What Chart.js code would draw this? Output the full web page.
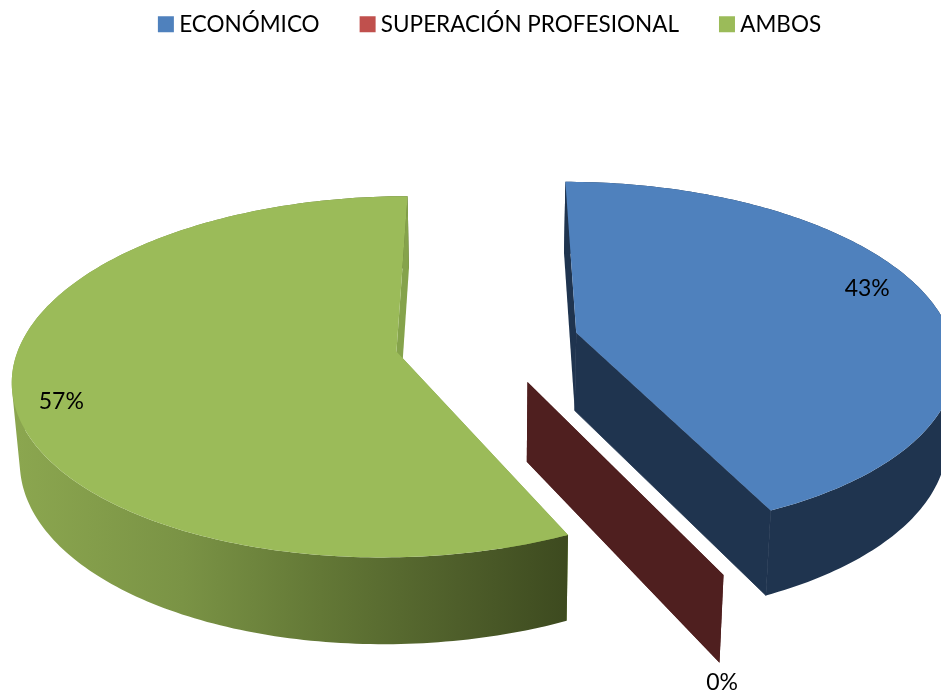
<!DOCTYPE html>
<html lang="en">
  <head>
    <meta charset="utf-8" />
    <title>Pie 3D</title>
    <style>
      * {
        margin: 0;
        padding: 0;
      }
      body {
        background: white;
        overflow: hidden;
      }
      .chartBox {
        width: 941px;
        height: 691px;
      }
    </style>
  </head>
  <body>
    <div class="chartBox">
      <canvas id="myChart" width="941" height="691"></canvas>
    </div>

    <script src="https://cdnjs.cloudflare.com/ajax/libs/Chart.js/4.4.1/chart.umd.min.js"></script>

    <script>
      const categories = ["ECONÓMICO", "SUPERACIÓN PROFESIONAL", "AMBOS"];
      const percentValues = [43, 0, 57];

      const topColors = ["#4f81bd", "#c0504d", "#9bbb59"];
      const sideColors = ["#1f344f", "#4f1f1f", "#85a34b"];

      // label placement relative to each slice, radius and angle shift in degrees
      const labelRadius = [0.86, 1.37, 0.885];
      const labelShift = [-5.5, 8.8, -5.5];

      // camera fitted to the picture
      const view = { vx: 487, vy: 342, a: 376, b: 174.4, k: 0.1396, explode: 0.245 };

      const project = (u, v) => {
        const s = 1 / (1 - view.k * v);
        return { x: view.vx + view.a * u * s, y: view.vy + view.b * v * s };
      };

      // bottom plane of the pie
      const lower = (p) => ({
        x: view.vx + (p.x - view.vx) * 0.983,
        y: p.y * 1.04 + 64.5,
      });

      const addPoly = (ctx, points) => {
        points.forEach((p, i) => (i ? ctx.lineTo(p.x, p.y) : ctx.moveTo(p.x, p.y)));
        ctx.closePath();
      };

      const fillPath = (ctx, points, fill, seam) => {
        ctx.beginPath();
        addPoly(ctx, points);
        ctx.fillStyle = fill;
        ctx.fill();
        if (seam) {
          ctx.strokeStyle = fill;
          ctx.lineWidth = 0.8;
          ctx.stroke();
        }
      };

      const signedArea = (points) => {
        let sum = 0;
        points.forEach((p, i) => {
          const q = points[(i + 1) % points.length];
          sum += p.x * q.y - q.x * p.y;
        });
        return sum;
      };

      const pie3d = {
        id: "pie3d",
        beforeDatasetsDraw(chart) {
          const ctx = chart.ctx;
          const arcs = chart.getDatasetMeta(0).data;

          const greenSide = ctx.createLinearGradient(18, 0, 568, 0);
          greenSide.addColorStop(0, "#8ba64f");
          greenSide.addColorStop(0.3, "#7a9345");
          greenSide.addColorStop(0.55, "#637836");
          greenSide.addColorStop(0.8, "#4e5e2a");
          greenSide.addColorStop(1, "#3d4a1f");

          arcs.forEach((arc, i) => {
            const mid = (arc.startAngle + arc.endAngle) / 2;
            const cu = view.explode * Math.cos(mid);
            const cv = view.explode * Math.sin(mid);

            const center = project(cu, cv);
            const rim = [];
            const steps = Math.max(1, Math.ceil(((arc.endAngle - arc.startAngle) * 180) / Math.PI));
            for (let n = 0; n <= steps; n++) {
              const t = arc.startAngle + ((arc.endAngle - arc.startAngle) * n) / steps;
              rim.push(project(cu + Math.cos(t), cv + Math.sin(t)));
            }

            const wallColor = sideColors[i];
            const first = rim[0];
            const last = rim[rim.length - 1];

            // start wall goes under the rim, green's faces away
            fillPath(ctx, [center, first, lower(first), lower(center)], wallColor);

            if (steps > 1) {
              // outer wall, quads in one path with the same winding so no seams or notch
              ctx.beginPath();
              for (let n = 0; n < steps; n++) {
                const quad = [rim[n], rim[n + 1], lower(rim[n + 1]), lower(rim[n])];
                addPoly(ctx, signedArea(quad) < 0 ? quad.reverse() : quad);
              }
              ctx.fillStyle = i === 2 ? greenSide : wallColor;
              ctx.fill();
            }

            fillPath(ctx, [center, last, lower(last), lower(center)], wallColor, i === 0);

            if (steps > 1) {
              fillPath(ctx, [center].concat(rim), topColors[i]);
            }
          });

          ctx.save();
          ctx.fillStyle = "#000";
          ctx.font = "23px Lato";
          ctx.textAlign = "center";
          ctx.textBaseline = "middle";
          arcs.forEach((arc, i) => {
            const mid = (arc.startAngle + arc.endAngle) / 2;
            const t = mid + (labelShift[i] * Math.PI) / 180;
            const p = project(
              view.explode * Math.cos(mid) + labelRadius[i] * Math.cos(t),
              view.explode * Math.sin(mid) + labelRadius[i] * Math.sin(t)
            );
            ctx.fillText(percentValues[i] + "%", p.x, p.y);
          });
          ctx.restore();

          return false;
        },
      };

      const config = {
        type: "pie",
        data: {
          labels: categories,
          datasets: [
            {
              data: percentValues,
              backgroundColor: topColors,
              borderWidth: 0,
            },
          ],
        },
        options: {
          responsive: false,
          animation: false,
          layout: {
            padding: { top: -33, left: 44 },
          },
          plugins: {
            tooltip: { enabled: false },
            legend: {
              position: "top",
              labels: {
                usePointStyle: true,
                pointStyle: "rect",
                boxWidth: 4,
                boxHeight: 16,
                padding: 46,
                color: "#000",
                font: { family: "Lato", size: 22.5 },
              },
            },
          },
        },
        plugins: [pie3d],
      };

      const myChart = new Chart(document.getElementById("myChart"), config);
    </script>
  </body>
</html>
